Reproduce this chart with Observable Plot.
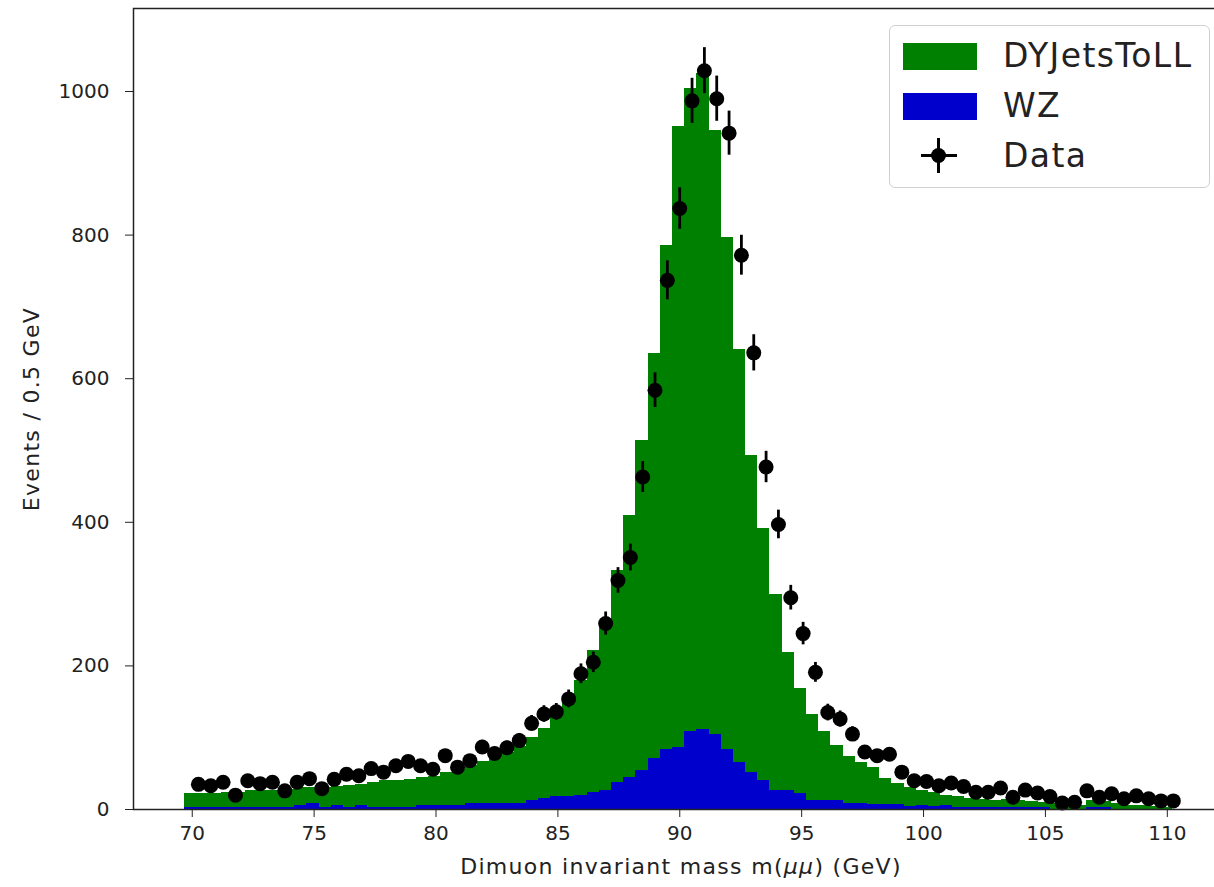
<!DOCTYPE html>
<html>
<head>
<meta charset="utf-8">
<script src="https://cdn.jsdelivr.net/npm/d3@7"></script>
<script src="https://cdn.jsdelivr.net/npm/@observablehq/plot@0.6"></script>
<style>
  html, body { margin: 0; padding: 0; background: #fff; overflow: hidden; }
  #wrap { position: relative; width: 1214px; height: 887px; overflow: hidden; }
  #chart { position: absolute; left: 0; top: 0; width: 1230px; }
  #chart svg { max-width: none !important; }
  .legend { position: absolute; left: 889px; top: 25px; width: 321px; height: 163px; box-sizing: border-box;
    border: 1.5px solid #d0d0d0; border-radius: 6px; background: rgba(255,255,255,0.85);
    font-family: "DejaVu Sans"; font-size: 33px; letter-spacing: 1.4px; color: #222; }
  .legend .sw { position: absolute; left: 13px; width: 74px; height: 27px; }
  .legend .lab { position: absolute; left: 113px; height: 40px; line-height: 40px; white-space: nowrap; }
  .legend .hl { position: absolute; left: 31px; top: 128px; width: 36px; height: 3px; background: #000; }
  .legend .vl { position: absolute; left: 47px; top: 112px; width: 3px; height: 35px; background: #000; }
  .legend .dt { position: absolute; left: 41px; top: 122px; width: 15px; height: 15px; border-radius: 50%; background: #000; }
</style>
</head>
<body>
<div id="wrap">
  <div id="chart"></div>
  <div class="legend">
    <div class="sw" style="top:17px;background:#008000"></div>
    <div class="lab" style="top:10px">DYJetsToLL</div>
    <div class="sw" style="top:67px;background:#0000cd"></div>
    <div class="lab" style="top:60px">WZ</div>
    <div class="hl"></div><div class="vl"></div><div class="dt"></div>
    <div class="lab" style="top:110px">Data</div>
  </div>
</div>
<script>
// Simulation bins (0.5 GeV wide)
const mcLow = 69.7;
const mcWidth = 0.5;
const wzCounts = [
  3,3,3,3,3,3,3,3,3,
  6,9,3,6,3,6,3,3,3,3,6,6,
  6,6,9,9,9,9,9,12,15,18,
  18,20,24,26,37,44,55,71,83,87,
  108,111,104,83,66,52,40,27,27,22,
  13,13,13,9,9,7,7,7,4,6,
  4,6,3,3,3,3,3,3,3,3,
  0,0,0,3,3,0,0,0,0,0
];
const dyCounts = [
  19,19,19,20,21,23,23,24,25,24,
  22,28,26,30,29,35,37,37,39,39,
  40,46,50,52,58,64,71,79,88,98,
  110,132,160,197,230,296,365,459,564,702,
  864,896,914,842,714,574,441,351,272,192,
  147,120,95,76,65,57,52,36,29,26,
  21,19,14,15,13,11,10,11,9,8,
  7,8,7,6,9,8,9,6,5,4,3
];
// Data bins
const dataLow = 70;
const dataWidth = 0.50625;
const dataCounts = [
  35,33,38,20,40,36,38,26,38,43,
  29,42,49,47,57,52,61,67,61,56,
  75,59,68,87,78,86,96,120,133,136,
  154,189,205,259,319,351,463,584,737,837,
  987,1029,990,942,772,636,477,397,295,245,
  191,135,126,105,80,75,77,52,40,39,
  33,37,32,24,24,30,17,27,23,18,
  9,10,26,17,22,15,19,15,12,12
];
const xTicks = [70,75,80,85,90,95,100,105,110];
const yTicks = [0,200,400,600,800,1000];

const mc = wzCounts.map((w, k) => ({
  x1: mcLow + k * mcWidth, x2: mcLow + (k + 1) * mcWidth, wz: w, tot: w + dyCounts[k]
}));
const pts = dataCounts.map((v, i) => ({
  x: dataLow + (i + 0.5) * dataWidth, y: v, err: Math.sqrt(v)
}));

const chart = Plot.plot({
  width: 1230, height: 887,
  marginLeft: 133, marginRight: 2, marginTop: 8, marginBottom: 78,
  style: { fontFamily: "DejaVu Sans", fontSize: "20px", color: "#222", background: "transparent", maxWidth: "none" },
  x: { domain: [67.59, 112.51] },
  y: { domain: [0, 1115.6] },
  marks: [
    Plot.rect(mc, { x1: "x1", x2: "x2", y1: 0, y2: "wz", fill: "#0000cd", shapeRendering: "crispEdges" }),
    Plot.rect(mc, { x1: "x1", x2: "x2", y1: "wz", y2: "tot", fill: "#008000", shapeRendering: "crispEdges" }),
    Plot.ruleX(pts, { x: "x", y1: d => d.y - d.err, y2: d => d.y + d.err, stroke: "black", strokeWidth: 2.8 }),
    Plot.ruleY(pts, { y: "y", x1: d => d.x - 0.25, x2: d => d.x + 0.25, stroke: "black", strokeWidth: 2.8 }),
    Plot.dot(pts, { x: "x", y: "y", r: 7.5, fill: "black" }),
    Plot.axisX({ ticks: xTicks, tickSize: 8, tickPadding: 8, label: null, tickFormat: "d" }),
    Plot.axisY({ ticks: yTicks, tickSize: 8, tickPadding: 16, label: null, tickFormat: "d" }),
    Plot.frame({ stroke: "#222", strokeWidth: 1.5 }),
    Plot.text(["Dimuon invariant mass m(μμ) (GeV)"], { frameAnchor: "bottom", dy: 57, lineAnchor: "middle", textAnchor: "middle", fontSize: 22, fill: "#222" }),
    Plot.text(["Events / 0.5 GeV"], { frameAnchor: "left", rotate: -90, dx: -102, lineAnchor: "middle", textAnchor: "middle", fontSize: 22, fill: "#222" })
  ]
});
document.getElementById("chart").appendChild(chart);

// styling touches: letter spacing on axis labels, italic mu
chart.querySelectorAll("text").forEach(t => {
  const s = t.textContent;
  if (s === "Events / 0.5 GeV") {
    t.setAttribute("letter-spacing", "1.3");
  } else if (s.startsWith("Dimuon")) {
    t.setAttribute("letter-spacing", "1.3");
    t.textContent = "";
    const parts = [["Dimuon invariant mass m(", false], ["μμ", true], [") (GeV)", false]];
    for (const [str, it] of parts) {
      const ts = document.createElementNS("http://www.w3.org/2000/svg", "tspan");
      ts.textContent = str;
      if (it) ts.setAttribute("font-style", "italic");
      t.appendChild(ts);
    }
  }
});
</script>
</body>
</html>
